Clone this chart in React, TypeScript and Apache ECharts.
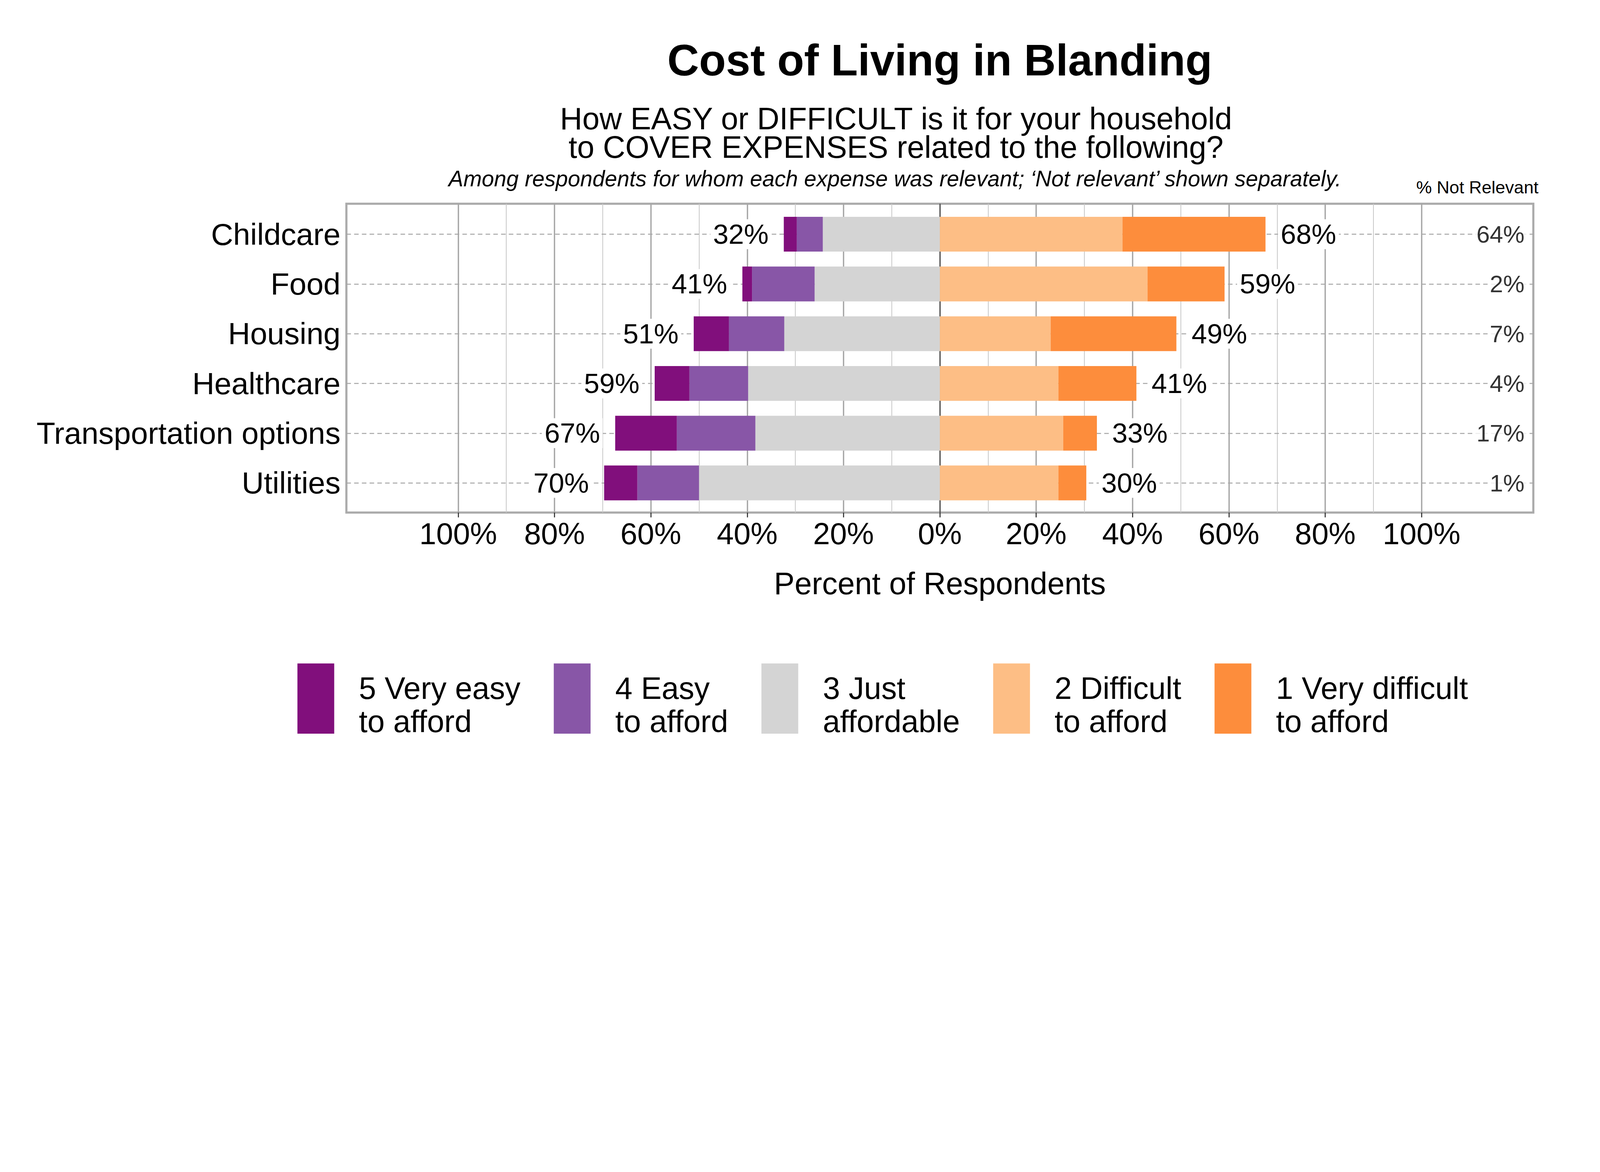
import { useEffect, useRef } from "react";
import * as echarts from "echarts";

const FONT = '"Liberation Sans", Arial, Helvetica, sans-serif';

const categories = ["Childcare", "Food", "Housing", "Healthcare", "Transportation options", "Utilities"];

// percent of respondents (among those for whom the expense was relevant)
const veryEasy = [2.7, 2.0, 7.3, 7.2, 12.8, 6.9];
const easy = [5.4, 13.0, 11.5, 12.2, 16.3, 12.8];
const justAffordable = [24.3, 26.0, 32.3, 39.8, 38.3, 50.0];
const difficult = [37.9, 43.1, 23.0, 24.6, 25.6, 24.6];
const veryDifficult = [29.7, 16.0, 26.1, 16.2, 7.0, 5.8];
const notRelevant = [64, 2, 7, 4, 17, 1];

const legendNames = [
  "5 Very easy\nto afford",
  "4 Easy\nto afford",
  "3 Just\naffordable",
  "2 Difficult\nto afford",
  "1 Very difficult\nto afford",
];
const colors = ["#810f7c", "#8856a7", "#d4d4d4", "#fdbe85", "#fd8d3c"];

const majorTicks = [-100, -80, -60, -40, -20, 0, 20, 40, 60, 80, 100];
const minorTicks = [-90, -70, -50, -30, -10, 10, 30, 50, 70, 90];

const X_MIN = -123.2;
const X_MAX = 123.2;
const NOT_RELEVANT_X = 121.8;

// layout is designed on a 6000 x 3000 canvas and scaled to the real container
const DESIGN_W = 6000;
const DESIGN_H = 3000;

const leftTotals = categories.map((_, i) => Math.round(veryEasy[i] + easy[i] + justAffordable[i]));
const rightTotals = categories.map((_, i) => Math.round(difficult[i] + veryDifficult[i]));

const neg = (arr: number[]) => arr.map((v) => -v);

function buildOption(s: number): echarts.EChartsOption {
  const u = (v: number) => v * s;

  const barBase = {
    type: "bar" as const,
    xAxisIndex: 1,
    yAxisIndex: 1,
    stack: "total",
    barCategoryGap: "30%",
    z: 2,
    emphasis: { disabled: true },
  };

  const totalLabel = {
    show: true,
    distance: u(47),
    fontSize: u(104),
    fontFamily: FONT,
    color: "#000",
    backgroundColor: "#fff",
    padding: [u(4), u(10)],
  };

  return {
    animation: false,
    backgroundColor: "#fff",
    textStyle: { fontFamily: FONT },
    grid: [
      {
        left: u(1299),
        right: u(250),
        top: u(764),
        bottom: u(1078),
        show: true,
        borderColor: "#ababab",
        borderWidth: u(8),
        backgroundColor: "transparent",
      },
      { left: u(1299), right: u(250), top: u(785), bottom: u(1096) },
    ],
    xAxis: [
      {
        type: "value",
        gridIndex: 0,
        min: X_MIN,
        max: X_MAX,
        name: "Percent of Respondents",
        nameLocation: "middle",
        nameGap: u(208),
        nameTextStyle: { fontSize: u(116), color: "#000", fontFamily: FONT },
        axisLine: { show: false },
        splitLine: { show: false },
        axisTick: {
          show: true,
          customValues: majorTicks,
          length: u(18),
          lineStyle: { color: "#333", width: u(4) },
        },
        axisLabel: {
          customValues: majorTicks,
          formatter: (v: number) => `${Math.abs(Math.round(v))}%`,
          fontSize: u(114),
          color: "#000",
          margin: u(22),
          fontFamily: FONT,
        },
      } as any,
      { type: "value", gridIndex: 1, min: X_MIN, max: X_MAX, show: false },
    ],
    yAxis: [
      { type: "value", gridIndex: 0, min: 0, max: 1, show: false },
      {
        type: "category",
        gridIndex: 1,
        data: categories,
        inverse: true,
        axisLine: { show: false },
        axisTick: { show: false },
        splitLine: { show: false },
        axisLabel: { fontSize: u(115), color: "#000", margin: u(22), fontFamily: FONT },
      },
    ],
    legend: {
      data: legendNames,
      left: u(1108),
      top: u(2464),
      orient: "horizontal",
      icon: "rect",
      itemWidth: u(138),
      itemHeight: u(263),
      itemGap: u(125),
      selectedMode: false,
      // a thin spacer line on top nudges the two text lines down a little
      formatter: (name: string) => `{pad| }\n${name}`,
      textStyle: {
        fontSize: u(116),
        lineHeight: u(125),
        color: "#000",
        fontFamily: FONT,
        padding: [0, 0, 0, u(85)],
        rich: {
          pad: { fontSize: 1, lineHeight: u(46) },
        },
      },
    },
    graphic: [
      {
        type: "text",
        x: u(3524),
        y: u(226),
        style: {
          text: "Cost of Living in Blanding",
          fontSize: u(165),
          fontWeight: "bold",
          fontFamily: FONT,
          fill: "#000",
          align: "center",
          verticalAlign: "middle",
        },
      },
      {
        type: "text",
        x: u(3360),
        y: u(498),
        style: {
          text: "How EASY or DIFFICULT is it for your household\nto COVER EXPENSES related to the following?",
          fontSize: u(116),
          lineHeight: u(108),
          fontFamily: FONT,
          fill: "#000",
          align: "center",
          verticalAlign: "middle",
        },
      },
      {
        type: "text",
        x: u(3356),
        y: u(670),
        style: {
          text: "Among respondents for whom each expense was relevant; \u2018Not relevant\u2019 shown separately.",
          fontSize: u(83),
          fontStyle: "italic",
          fontFamily: FONT,
          fill: "#000",
          align: "center",
          verticalAlign: "middle",
        },
      },
      {
        type: "text",
        x: u(5540),
        y: u(702),
        style: {
          text: "% Not Relevant",
          fontSize: u(66),
          fontFamily: FONT,
          fill: "#000",
          align: "center",
          verticalAlign: "middle",
        },
      },
    ],
    series: [
      // vertical gridlines in the framed panel
      {
        type: "line",
        xAxisIndex: 0,
        yAxisIndex: 0,
        data: [],
        silent: true,
        z: 1,
        markLine: {
          silent: true,
          z: 1,
          symbol: ["none", "none"],
          label: { show: false },
          emphasis: { disabled: true },
          data: [
            ...minorTicks.map((v) => ({ xAxis: v, lineStyle: { color: "#c9c9c9", width: u(3), type: "solid" } })),
            ...majorTicks
              .filter((v) => v !== 0)
              .map((v) => ({ xAxis: v, lineStyle: { color: "#a6a6a6", width: u(5), type: "solid" } })),
            { xAxis: 0, lineStyle: { color: "#555", width: u(5), type: "solid" } },
          ],
        },
      } as any,
      {
        ...barBase,
        name: legendNames[2],
        data: neg(justAffordable),
        itemStyle: { color: colors[2] },
      },
      {
        ...barBase,
        name: legendNames[1],
        data: neg(easy),
        itemStyle: { color: colors[1] },
      },
      {
        ...barBase,
        name: legendNames[0],
        data: neg(veryEasy),
        itemStyle: { color: colors[0] },
        label: {
          ...totalLabel,
          position: "left",
          formatter: (p: any) => `${leftTotals[p.dataIndex]}%`,
        },
      },
      {
        ...barBase,
        name: legendNames[3],
        data: difficult,
        itemStyle: { color: colors[3] },
      },
      {
        ...barBase,
        name: legendNames[4],
        data: veryDifficult,
        itemStyle: { color: colors[4] },
        label: {
          ...totalLabel,
          position: "right",
          formatter: (p: any) => `${rightTotals[p.dataIndex]}%`,
        },
      },
      // % not relevant column + dashed row guides
      {
        type: "scatter",
        xAxisIndex: 1,
        yAxisIndex: 1,
        symbolSize: 0,
        z: 3,
        silent: true,
        data: notRelevant.map((v, i) => [NOT_RELEVANT_X, categories[i], v]),
        label: {
          show: true,
          position: "left",
          distance: 0,
          formatter: (p: any) => `${p.value[2]}%`,
          fontSize: u(90),
          fontFamily: FONT,
          color: "#000",
          backgroundColor: "#fff",
          padding: [u(4), u(8)],
        },
        markLine: {
          silent: true,
          z: 1,
          symbol: ["none", "none"],
          label: { show: false },
          emphasis: { disabled: true },
          lineStyle: { color: "#a6a6a6", width: u(4), type: [u(17), u(12)] },
          data: categories.map((c) => ({ yAxis: c })),
        },
      } as any,
    ],
  };
}

export default function App() {
  const ref = useRef<HTMLDivElement | null>(null);

  useEffect(() => {
    const el = ref.current;
    if (!el) {
      return undefined;
    }
    document.body.style.margin = "0";
    // keep the 2:1 shape of the design, whatever the viewport's CSS size is
    const w = el.clientWidth;
    el.style.height = `${(w * DESIGN_H) / DESIGN_W}px`;
    const s = w / DESIGN_W;
    const chart = echarts.init(el, null, { renderer: "svg" });
    chart.setOption(buildOption(s));
    return () => {
      chart.dispose();
    };
  }, []);

  return (
    <div
      ref={ref}
      style={{ position: "absolute", left: 0, top: 0, width: "100vw", height: "50vw", background: "#fff" }}
    />
  );
}
